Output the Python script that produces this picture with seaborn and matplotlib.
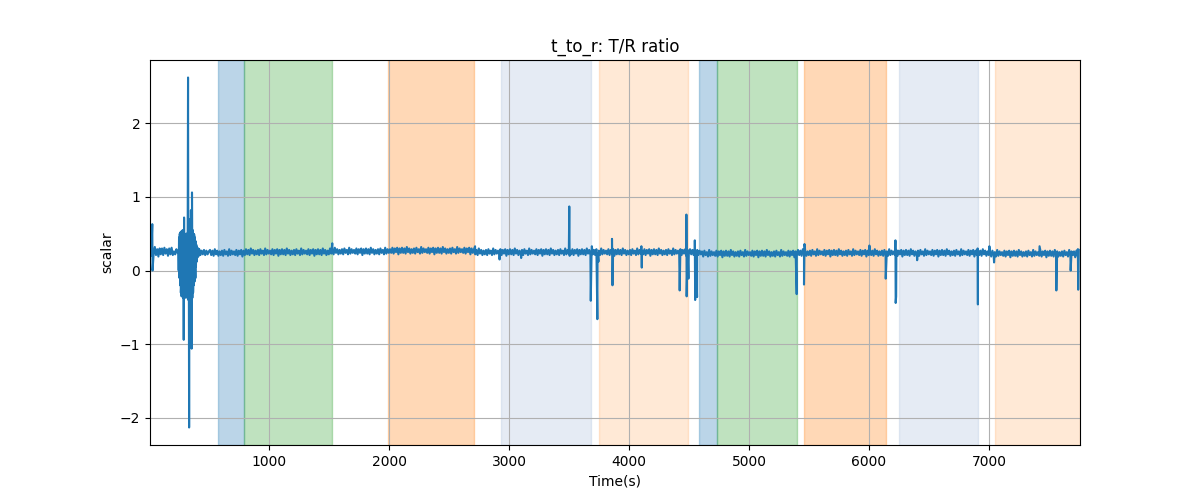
import numpy as np
import pandas as pd
import matplotlib
matplotlib.use("Agg")
import matplotlib.pyplot as plt
import seaborn as sns

# T/R ratio readings, one every 10 s starting at t = 8 s (one row = 100 s)
t_first = 8
step_s = 10
ratio_base = [
    0.31, 0.20, 0.30, 0.22, 0.32, 0.21, 0.29, 0.19, 0.30, 0.22,
    0.30, 0.21, 0.31, 0.23, 0.29, 0.20, 0.30, 0.22, 0.31, 0.21,
    0.26, 0.22, 0.29, 0.24, 0.10, 0.40, -0.20, 0.45, -0.30, 0.50,
    -0.30, 0.45, -0.35, 0.40, -0.30, 0.45, -0.25, 0.40, -0.10, 0.30,
    0.20, 0.29, 0.21, 0.27, 0.22, 0.28, 0.21, 0.27, 0.22, 0.26,
    0.28, 0.21, 0.27, 0.20, 0.29, 0.22, 0.27, 0.20, 0.26, 0.21,
    0.27, 0.20, 0.28, 0.22, 0.26, 0.20, 0.29, 0.21, 0.27, 0.22,
    0.26, 0.21, 0.28, 0.20, 0.27, 0.22, 0.28, 0.19, 0.27, 0.21,
    0.29, 0.22, 0.28, 0.21, 0.30, 0.23, 0.28, 0.21, 0.27, 0.22,
    0.28, 0.21, 0.29, 0.23, 0.27, 0.21, 0.30, 0.22, 0.28, 0.23,
    # 1000 s
    0.27, 0.22, 0.29, 0.21, 0.28, 0.23, 0.29, 0.20, 0.28, 0.22,
    0.29, 0.22, 0.28, 0.21, 0.30, 0.23, 0.28, 0.21, 0.27, 0.22,
    0.28, 0.21, 0.29, 0.23, 0.27, 0.21, 0.30, 0.22, 0.28, 0.23,
    0.27, 0.22, 0.29, 0.21, 0.28, 0.23, 0.29, 0.20, 0.28, 0.22,
    0.29, 0.22, 0.28, 0.21, 0.30, 0.23, 0.28, 0.21, 0.27, 0.22,
    0.30, 0.23, 0.29, 0.22, 0.31, 0.24, 0.29, 0.22, 0.28, 0.23,
    0.29, 0.22, 0.30, 0.24, 0.28, 0.22, 0.31, 0.23, 0.29, 0.24,
    0.28, 0.23, 0.30, 0.22, 0.29, 0.24, 0.30, 0.21, 0.29, 0.23,
    0.30, 0.23, 0.29, 0.22, 0.31, 0.24, 0.29, 0.22, 0.28, 0.23,
    0.29, 0.22, 0.30, 0.24, 0.28, 0.22, 0.31, 0.23, 0.29, 0.24,
    # 2000 s
    0.29, 0.24, 0.31, 0.23, 0.30, 0.25, 0.31, 0.22, 0.30, 0.24,
    0.31, 0.24, 0.30, 0.23, 0.32, 0.25, 0.30, 0.23, 0.29, 0.24,
    0.30, 0.23, 0.31, 0.25, 0.29, 0.23, 0.32, 0.24, 0.30, 0.25,
    0.29, 0.24, 0.31, 0.23, 0.30, 0.25, 0.31, 0.22, 0.30, 0.24,
    0.31, 0.24, 0.30, 0.23, 0.32, 0.25, 0.30, 0.23, 0.29, 0.24,
    0.30, 0.23, 0.31, 0.25, 0.29, 0.23, 0.32, 0.24, 0.30, 0.25,
    0.29, 0.24, 0.31, 0.23, 0.30, 0.25, 0.31, 0.22, 0.30, 0.24,
    0.29, 0.22, 0.28, 0.21, 0.30, 0.23, 0.28, 0.21, 0.27, 0.22,
    0.28, 0.21, 0.29, 0.23, 0.27, 0.21, 0.30, 0.22, 0.28, 0.23,
    0.27, 0.22, 0.29, 0.21, 0.28, 0.23, 0.29, 0.20, 0.28, 0.22,
    # 3000 s
    0.29, 0.22, 0.28, 0.21, 0.30, 0.23, 0.28, 0.21, 0.27, 0.22,
    0.28, 0.21, 0.29, 0.23, 0.27, 0.21, 0.30, 0.22, 0.28, 0.23,
    0.27, 0.22, 0.29, 0.21, 0.28, 0.23, 0.29, 0.20, 0.28, 0.22,
    0.29, 0.22, 0.28, 0.21, 0.30, 0.23, 0.28, 0.21, 0.27, 0.22,
    0.28, 0.21, 0.29, 0.23, 0.27, 0.21, 0.30, 0.22, 0.28, 0.23,
    0.27, 0.22, 0.29, 0.21, 0.28, 0.23, 0.29, 0.20, 0.28, 0.22,
    0.29, 0.22, 0.28, 0.21, 0.30, 0.23, 0.28, 0.21, 0.27, 0.22,
    0.28, 0.21, 0.29, 0.23, 0.27, 0.21, 0.30, 0.22, 0.28, 0.23,
    0.27, 0.22, 0.29, 0.21, 0.28, 0.23, 0.29, 0.20, 0.28, 0.22,
    0.29, 0.22, 0.28, 0.21, 0.30, 0.23, 0.28, 0.21, 0.27, 0.22,
    # 4000 s
    0.28, 0.21, 0.29, 0.23, 0.27, 0.21, 0.30, 0.22, 0.28, 0.23,
    0.27, 0.22, 0.29, 0.21, 0.28, 0.23, 0.29, 0.20, 0.28, 0.22,
    0.29, 0.22, 0.28, 0.21, 0.30, 0.23, 0.28, 0.21, 0.27, 0.22,
    0.28, 0.21, 0.29, 0.23, 0.27, 0.21, 0.30, 0.22, 0.28, 0.23,
    0.27, 0.22, 0.29, 0.21, 0.28, 0.23, 0.29, 0.20, 0.28, 0.22,
    0.29, 0.22, 0.28, 0.21, 0.30, 0.23, 0.28, 0.21, 0.27, 0.22,
    0.26, 0.19, 0.27, 0.21, 0.25, 0.19, 0.28, 0.20, 0.26, 0.21,
    0.25, 0.20, 0.27, 0.19, 0.26, 0.21, 0.27, 0.18, 0.26, 0.20,
    0.27, 0.20, 0.26, 0.19, 0.28, 0.21, 0.26, 0.19, 0.25, 0.20,
    0.26, 0.19, 0.27, 0.21, 0.25, 0.19, 0.28, 0.20, 0.26, 0.21,
    # 5000 s
    0.25, 0.20, 0.27, 0.19, 0.26, 0.21, 0.27, 0.18, 0.26, 0.20,
    0.27, 0.20, 0.26, 0.19, 0.28, 0.21, 0.26, 0.19, 0.25, 0.20,
    0.26, 0.19, 0.27, 0.21, 0.25, 0.19, 0.28, 0.20, 0.26, 0.21,
    0.25, 0.20, 0.27, 0.19, 0.26, 0.21, 0.27, 0.18, 0.26, 0.20,
    0.28, 0.21, 0.27, 0.20, 0.29, 0.22, 0.27, 0.20, 0.26, 0.21,
    0.27, 0.20, 0.28, 0.22, 0.26, 0.20, 0.29, 0.21, 0.27, 0.22,
    0.26, 0.21, 0.28, 0.20, 0.27, 0.22, 0.28, 0.19, 0.27, 0.21,
    0.28, 0.21, 0.27, 0.20, 0.29, 0.22, 0.27, 0.20, 0.26, 0.21,
    0.27, 0.20, 0.28, 0.22, 0.26, 0.20, 0.29, 0.21, 0.27, 0.22,
    0.26, 0.21, 0.28, 0.20, 0.27, 0.22, 0.28, 0.19, 0.27, 0.21,
    # 6000 s
    0.28, 0.21, 0.27, 0.20, 0.29, 0.22, 0.27, 0.20, 0.26, 0.21,
    0.27, 0.20, 0.28, 0.22, 0.26, 0.20, 0.29, 0.21, 0.27, 0.22,
    0.26, 0.21, 0.28, 0.20, 0.27, 0.22, 0.28, 0.19, 0.27, 0.21,
    0.28, 0.21, 0.27, 0.20, 0.29, 0.22, 0.27, 0.20, 0.26, 0.21,
    0.27, 0.20, 0.28, 0.22, 0.26, 0.20, 0.29, 0.21, 0.27, 0.22,
    0.26, 0.21, 0.28, 0.20, 0.27, 0.22, 0.28, 0.19, 0.27, 0.21,
    0.28, 0.21, 0.27, 0.20, 0.29, 0.22, 0.27, 0.20, 0.26, 0.21,
    0.27, 0.20, 0.28, 0.22, 0.26, 0.20, 0.29, 0.21, 0.27, 0.22,
    0.26, 0.21, 0.28, 0.20, 0.27, 0.22, 0.28, 0.19, 0.27, 0.21,
    0.28, 0.21, 0.27, 0.20, 0.29, 0.22, 0.27, 0.20, 0.26, 0.21,
    # 7000 s
    0.26, 0.19, 0.27, 0.21, 0.25, 0.19, 0.28, 0.20, 0.26, 0.21,
    0.25, 0.20, 0.27, 0.19, 0.26, 0.21, 0.27, 0.18, 0.26, 0.20,
    0.27, 0.20, 0.26, 0.19, 0.28, 0.21, 0.26, 0.19, 0.25, 0.20,
    0.26, 0.19, 0.27, 0.21, 0.25, 0.19, 0.28, 0.20, 0.26, 0.21,
    0.25, 0.20, 0.27, 0.19, 0.26, 0.21, 0.27, 0.18, 0.26, 0.20,
    0.27, 0.20, 0.26, 0.19, 0.28, 0.21, 0.26, 0.19, 0.25, 0.20,
    0.26, 0.19, 0.27, 0.21, 0.25, 0.19, 0.28, 0.20, 0.26, 0.21,
    0.26, 0.18, 0.27, 0.20, 0.28,
]

# start-up oscillation, read sample by sample
burst_time = [244, 247, 250, 253, 256, 259, 262, 265, 268, 271, 274, 277,
              280, 283, 286, 289, 292, 295, 298, 301, 304, 307, 310, 313,
              316, 319, 322, 325, 328, 331, 334, 337, 340, 343, 346, 349,
              352, 355, 358, 361, 364, 367, 370, 373, 376, 379, 382, 385,
              388, 391, 394, 397, 400, 405, 410, 415]
burst_value = [0.25, 0.00, 0.45, -0.10, 0.50, -0.20, 0.52, -0.30, 0.53, -0.35, 0.45, -0.30,
               0.55, -0.37, 0.50, -0.94, 0.72, -0.35, 0.50, -0.30, 0.45, -0.37, 0.50, -0.30,
               0.50, -0.35, 0.45, 2.62, -0.40, 0.50, -2.13, 0.70, -0.37, 0.60, -0.30, 0.82,
               -0.35, -1.06, 1.06, -0.37, 0.55, -0.30, 0.50, -0.20, 0.49, -0.15, 0.45, -0.10,
               0.40, 0.05, 0.35, 0.12, 0.32, 0.18, 0.30, 0.20]

# isolated spikes
spike_time = [27, 29, 1527, 2717, 2921, 3101,
              3502, 3505, 3681, 3690, 3736, 3745, 3858, 3862,
              4103, 4106, 4422, 4478, 4480, 4495, 4548, 4551, 4567,
              5397, 5458, 5462, 6003, 6139, 6220, 6222, 6226, 6401,
              6905, 6907, 7003, 7042, 7421, 7561, 7680, 7740, 7743]
spike_value = [0.63, 0.00, 0.37, 0.33, 0.15, 0.17,
               0.87, 0.20, -0.41, 0.33, -0.66, 0.12, 0.43, -0.20,
               0.33, 0.04, -0.27, 0.76, -0.35, -0.11, 0.41, -0.40, -0.36,
               -0.32, -0.19, 0.36, 0.34, -0.11, 0.41, -0.44, -0.35, 0.14,
               0.30, -0.46, 0.33, 0.11, 0.33, -0.27, 0.00, 0.29, -0.26]

# labelled phases (start, end, colour, alpha)
span_start = [575, 792, 1990, 2933, 3750, 4583, 4733, 5458, 6250, 7050]
span_end = [792, 1525, 2708, 3683, 4492, 4733, 5400, 6142, 6908, 7758]
span_color = ["tab:blue", "tab:green", "tab:orange", "lightsteelblue", "tab:orange",
              "tab:blue", "tab:green", "tab:orange", "lightsteelblue", "tab:orange"]
span_alpha = [0.3, 0.3, 0.3, 0.33, 0.17, 0.3, 0.3, 0.3, 0.33, 0.17]

base = pd.DataFrame({"t": t_first + np.arange(len(ratio_base)) * step_s, "ratio": ratio_base})
burst = pd.DataFrame({"t": burst_time, "ratio": burst_value})
spikes = pd.DataFrame({"t": spike_time, "ratio": spike_value})
df = pd.concat([base, burst, spikes]).sort_values("t", kind="stable").reset_index(drop=True)

fig, ax = plt.subplots(figsize=(12, 5), dpi=100)

for s, e, c, a in zip(span_start, span_end, span_color, span_alpha):
    ax.axvspan(s, e, color=c, alpha=a)

sns.lineplot(data=df, x="t", y="ratio", ax=ax, color="tab:blue",
             linewidth=1.5, sort=False, estimator=None)

ax.margins(x=0)
ax.grid(True)
ax.set_title("t_to_r: T/R ratio")
ax.set_xlabel("Time(s)")
ax.set_ylabel("scalar")

plt.savefig("out.png")
